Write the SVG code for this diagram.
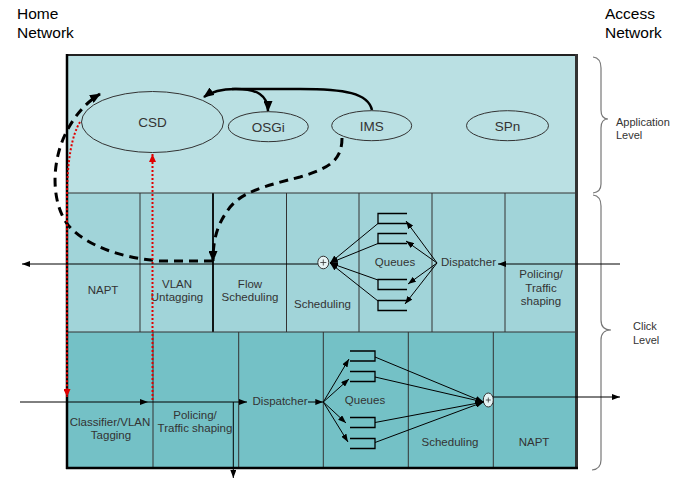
<svg xmlns="http://www.w3.org/2000/svg" width="684" height="481" viewBox="0 0 684 481">
<defs>
<style>
.t{font-family:"Liberation Sans",Arial,sans-serif;font-size:11.5px;fill:#333;text-anchor:middle}
.big{font-size:13.5px}
.hdr{font-family:"Liberation Sans",Arial,sans-serif;font-size:15.5px;fill:#000}
.side{font-family:"Liberation Sans",Arial,sans-serif;font-size:11px;fill:#333}
.cell{stroke:#333;stroke-width:1}
.ell{fill:none;stroke:#333;stroke-width:1}
.ln{fill:none;stroke:#000;stroke-width:1}
.bold{fill:none;stroke:#000;stroke-width:2.5}
.dash{fill:none;stroke:#000;stroke-width:3;stroke-dasharray:9 6}
.red{fill:none;stroke:#e00000;stroke-width:2;stroke-dasharray:2 2}
.q{fill:none;stroke:#000;stroke-width:1.3}
.brace{fill:none;stroke:#777;stroke-width:1.2}
</style>
<marker id="ah" markerUnits="userSpaceOnUse" markerWidth="8" markerHeight="6" refX="8" refY="3" orient="auto"><path d="M0,0 L8,3 L0,6 Z" fill="#000"/></marker>
<marker id="ahb" markerUnits="userSpaceOnUse" markerWidth="11" markerHeight="9" refX="10" refY="4.5" orient="auto"><path d="M0,0 L11,4.5 L0,9 Z" fill="#000"/></marker>
<marker id="ahr" markerUnits="userSpaceOnUse" markerWidth="8" markerHeight="7" refX="8" refY="3.5" orient="auto"><path d="M0,0 L8,3.5 L0,7 Z" fill="#e00000"/></marker>
</defs>
<rect width="684" height="481" fill="#fff"/>

<g id="headers">
<text class="hdr" x="17" y="18.5">Home</text>
<text class="hdr" x="17" y="37.5">Network</text>
<text class="hdr" x="605" y="19">Access</text>
<text class="hdr" x="605" y="37.5">Network</text>
</g>

<g id="app-level">
<rect x="67" y="55" width="510" height="138" fill="#bae0e3"/>
</g>
<g id="click-mid">
<rect x="67" y="193" width="510" height="139" fill="#a1d4d9"/>
<line class="cell" x1="140" y1="193" x2="140" y2="332"/>
<line x1="213" y1="193" x2="213" y2="332" stroke="#000" stroke-width="1.8"/>
<line class="cell" x1="286.5" y1="193" x2="286.5" y2="332"/>
<line class="cell" x1="359" y1="193" x2="359" y2="332"/>
<line class="cell" x1="432" y1="193" x2="432" y2="332"/>
<line class="cell" x1="505" y1="193" x2="505" y2="332"/>
<line class="cell" x1="67" y1="193" x2="577" y2="193"/>
</g>
<g id="click-bot">
<rect x="67" y="332" width="510" height="136" fill="#74c1c6"/>
<line class="cell" x1="67" y1="332" x2="577" y2="332"/>
<line class="cell" x1="153" y1="332" x2="153" y2="468"/>
<line class="cell" x1="238.7" y1="332" x2="238.7" y2="468"/>
<line class="cell" x1="323.3" y1="332" x2="323.3" y2="468"/>
<line class="cell" x1="408.3" y1="332" x2="408.3" y2="468"/>
<line class="cell" x1="493.3" y1="332" x2="493.3" y2="468"/>
</g>
<g id="frame">
<line x1="66" y1="55" x2="577" y2="55" stroke="#222" stroke-width="2"/>
<line x1="67" y1="54" x2="67" y2="469" stroke="#000" stroke-width="2.5"/>
<line x1="576.5" y1="54" x2="576.5" y2="469" stroke="#333" stroke-width="3"/>
<line x1="66" y1="468" x2="578" y2="468" stroke="#000" stroke-width="2.5"/>
</g>

<g id="csd"><ellipse class="ell" cx="152.5" cy="122" rx="71" ry="30.5"/><text class="t big" x="152.5" y="127">CSD</text></g>
<g id="osgi"><ellipse class="ell" cx="268.3" cy="126.7" rx="40" ry="15"/><text class="t big" x="268.3" y="131.5">OSGi</text></g>
<g id="ims"><ellipse class="ell" cx="371.7" cy="125.7" rx="40" ry="15"/><text class="t big" x="371.7" y="130.5">IMS</text></g>
<g id="spn"><ellipse class="ell" cx="507.5" cy="125.7" rx="41" ry="15"/><text class="t big" x="507.5" y="130.5">SPn</text></g>

<g id="mid-napt"><text class="t" x="103" y="294">NAPT</text></g>
<g id="mid-vlan"><text class="t" x="177" y="287.5">VLAN</text><text class="t" x="177" y="301">Untagging</text></g>
<g id="mid-flow"><text class="t" x="250" y="287.5">Flow</text><text class="t" x="250" y="301">Scheduling</text></g>
<g id="mid-sched"><text class="t" x="322.5" y="308">Scheduling</text>
<ellipse cx="323.3" cy="262.5" rx="5.5" ry="6.3" fill="#e6f3f4" stroke="#333" stroke-width="1"/>
<path d="M320.3,262.5 H326.3 M323.3,259.5 V265.5" stroke="#333" stroke-width="0.8"/></g>
<g id="mid-queues"><text class="t" x="395" y="265.5">Queues</text>
<path class="q" d="M407,213.5 H378 V223.5 H407"/>
<path class="q" d="M407,233.5 H378 V243.5 H407"/>
<path class="q" d="M407,279.5 H378 V289.5 H407"/>
<path class="q" d="M407,300.5 H378 V310.5 H407"/></g>
<g id="mid-dispatcher"><text class="t" x="468.5" y="265.5">Dispatcher</text></g>
<g id="mid-policing"><text class="t" x="541" y="277.5">Policing/</text><text class="t" x="541" y="291.5">Traffic</text><text class="t" x="541" y="304.5">shaping</text></g>

<g id="bot-classifier"><text class="t" x="110" y="425.5">Classifier/VLAN</text><text class="t" x="111" y="439">Tagging</text></g>
<g id="bot-policing"><text class="t" x="195" y="419">Policing/</text><text class="t" x="195" y="432">Traffic shaping</text></g>
<g id="bot-dispatcher"><text class="t" x="280" y="405">Dispatcher</text></g>
<g id="bot-queues"><text class="t" x="365" y="404">Queues</text>
<path class="q" d="M350,351 H375 V361 H350"/>
<path class="q" d="M350,371.5 H375 V381.5 H350"/>
<path class="q" d="M350,417.5 H375 V427.5 H350"/>
<path class="q" d="M350,438.5 H375 V448.5 H350"/></g>
<g id="bot-sched"><text class="t" x="450" y="446">Scheduling</text>
<ellipse cx="488.3" cy="400" rx="5" ry="7" fill="#e6f3f4" stroke="#333" stroke-width="1"/>
<path d="M485.8,400 H490.8 M488.3,397.5 V402.5" stroke="#333" stroke-width="0.8"/></g>
<g id="bot-napt"><text class="t" x="534" y="446">NAPT</text></g>

<g id="levels">
<path class="brace" d="M593,57 Q601,58 601,68 L601,110 Q601,119 608,119 Q601,119 601,128 L601,184 Q601,192 593,193"/>
<path class="brace" d="M593,195 Q601,196 601,206 L601,320 Q601,330 611,330 Q601,330 601,340 L601,460 Q601,469 592,470"/>
<text class="side" x="616" y="126">Application</text>
<text class="side" x="616" y="139">Level</text>
<text class="side" x="633" y="330">Click</text>
<text class="side" x="633" y="344">Level</text>
</g>

<g id="connectors">
<!-- top level bold arrows -->
<path class="bold" d="M372,110 C368,93 345,89 300,89 L235,89 C222,89 211,92 204,97" marker-end="url(#ahb)"/>
<path class="bold" d="M232,89 C258,88 268,96 268,111" marker-end="url(#ahb)"/>
<!-- dashed -->
<path class="dash" d="M342,138 C342,160 330,168 300,177 C265,186 240,192 228,210 C217,225 213,240 213,261" marker-end="url(#ahb)"/>
<path class="dash" d="M213,261 L160,261 C120,258 85,245 68,225 C55,208 52,180 58,155 C63,133 78,107 100,94" marker-end="url(#ahb)"/>
<!-- red dotted -->
<path class="red" d="M152.5,400 L152.5,154" marker-end="url(#ahr)"/>
<path class="red" d="M80,122 C72,135 67,160 67,200 L67,397" marker-end="url(#ahr)"/>
<!-- middle row flow -->
<line class="ln" x1="620" y1="264" x2="498" y2="264" marker-end="url(#ah)"/>
<line class="ln" x1="437" y1="263" x2="406" y2="221" marker-end="url(#ah)"/>
<line class="ln" x1="437" y1="263" x2="406" y2="241" marker-end="url(#ah)"/>
<line class="ln" x1="437" y1="263" x2="408" y2="284" marker-end="url(#ah)"/>
<line class="ln" x1="437" y1="263" x2="405" y2="304" marker-end="url(#ah)"/>
<line class="ln" x1="378" y1="223.5" x2="330" y2="263" marker-end="url(#ah)"/>
<line class="ln" x1="378" y1="243.5" x2="330" y2="263" marker-end="url(#ah)"/>
<line class="ln" x1="378" y1="280" x2="330" y2="263" marker-end="url(#ah)"/>
<line class="ln" x1="378" y1="301" x2="330" y2="263" marker-end="url(#ah)"/>
<line class="ln" x1="317.8" y1="264" x2="22" y2="264" marker-end="url(#ah)"/>
<!-- bottom row flow -->
<line class="ln" x1="20" y1="402" x2="148" y2="402" marker-end="url(#ah)"/>
<line class="ln" x1="148" y1="402" x2="247" y2="402" marker-end="url(#ah)"/>
<line class="ln" x1="233.3" y1="402" x2="233.3" y2="478" marker-end="url(#ah)"/>
<line class="ln" x1="308" y1="402" x2="323.3" y2="402" marker-end="url(#ah)"/>
<line class="ln" x1="323.3" y1="402" x2="349" y2="359" marker-end="url(#ah)"/>
<line class="ln" x1="323.3" y1="402" x2="349" y2="379" marker-end="url(#ah)"/>
<line class="ln" x1="323.3" y1="402" x2="346" y2="423" marker-end="url(#ah)"/>
<line class="ln" x1="323.3" y1="402" x2="348" y2="442" marker-end="url(#ah)"/>
<line class="ln" x1="375" y1="357" x2="483.5" y2="402" marker-end="url(#ah)"/>
<line class="ln" x1="375" y1="377" x2="483.5" y2="402" marker-end="url(#ah)"/>
<line class="ln" x1="375" y1="422.5" x2="483.5" y2="402" marker-end="url(#ah)"/>
<line class="ln" x1="375" y1="442.5" x2="483.5" y2="402" marker-end="url(#ah)"/>
<line class="ln" x1="493.3" y1="397" x2="620" y2="397" marker-end="url(#ah)"/>
</g>
</svg>
